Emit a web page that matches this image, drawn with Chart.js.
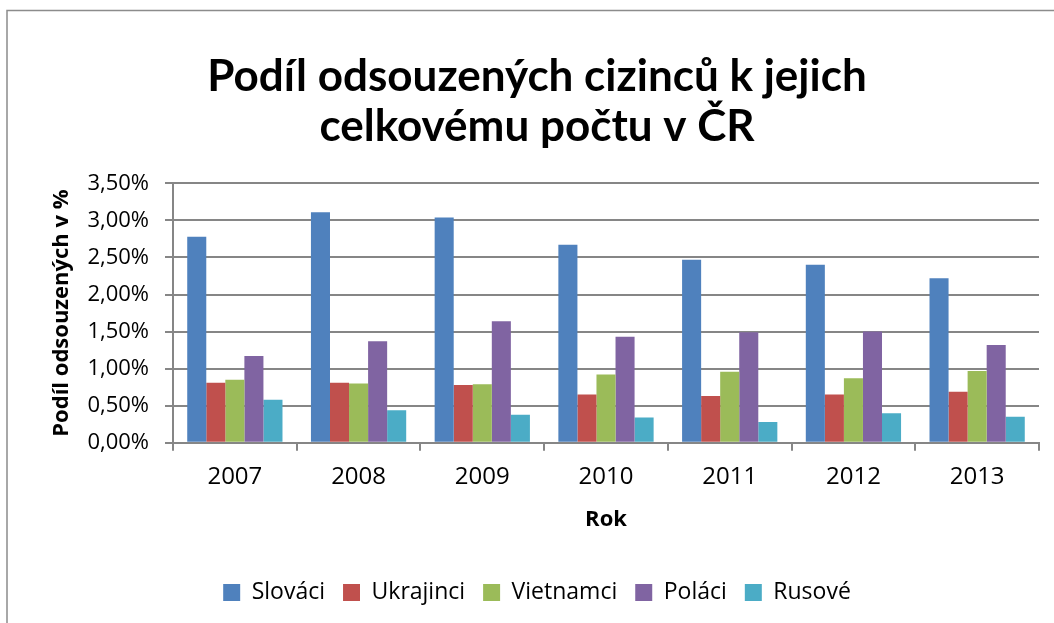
<!DOCTYPE html>
<html lang="cs">
<head>
<meta charset="utf-8">
<title>Podíl odsouzených cizinců</title>
<script src="https://cdn.jsdelivr.net/npm/chart.js@4.4.0/dist/chart.umd.min.js"></script>
<style>
  html, body { margin: 0; padding: 0; background: #fff; }
  #wrap { position: relative; width: 1054px; height: 623px; }
</style>
</head>
<body>
<div id="wrap"><canvas id="chart" width="1054" height="623"></canvas></div>
<script>
// ===== data (values in %) =====
const years = ["2007", "2008", "2009", "2010", "2011", "2012", "2013"];
const slovaci   = [2.78, 3.11, 3.04, 2.67, 2.47, 2.40, 2.22];
const ukrajinci = [0.81, 0.81, 0.78, 0.65, 0.63, 0.65, 0.69];
const vietnamci = [0.85, 0.80, 0.79, 0.92, 0.96, 0.87, 0.97];
const polaci    = [1.17, 1.37, 1.64, 1.43, 1.49, 1.50, 1.32];
const rusove    = [0.58, 0.44, 0.38, 0.34, 0.28, 0.40, 0.35];
const seriesNames = ["Slováci", "Ukrajinci", "Vietnamci", "Poláci", "Rusové"];
const seriesColors = ["#4F81BD", "#C0504D", "#9BBB59", "#8064A2", "#4BACC6"];
const yTicks = [0, 0.5, 1, 1.5, 2, 2.5, 3, 3.5];

const FONT = "'Open Sans', sans-serif";
const GRID = "#868686";

// frame around the chart (only left + top are visible in the reference)
const framePlugin = {
  id: "frame",
  beforeDraw(chart) {
    const ctx = chart.ctx;
    ctx.save();
    ctx.strokeStyle = "#8c8c8c";
    ctx.lineWidth = 1.5;
    ctx.beginPath();
    ctx.moveTo(7, 623);
    ctx.lineTo(7, 10.5);
    ctx.lineTo(1054, 10.5);
    ctx.stroke();
    ctx.restore();
  }
};

const allValues = [slovaci, ukrajinci, vietnamci, polaci, rusove];

new Chart(document.getElementById("chart"), {
  type: "bar",
  data: {
    labels: years,
    datasets: seriesNames.map((name, i) => ({
      label: name,
      data: allValues[i],
      backgroundColor: seriesColors[i],
      borderWidth: 0,
      categoryPercentage: 0.77,
      barPercentage: 1.0
    }))
  },
  options: {
    responsive: false,
    animation: false,
    layout: { padding: { left: 35, right: 15, top: 0, bottom: 9 } },
    plugins: {
      title: {
        display: true,
        text: ["Podíl odsouzených cizinců k jejich", "celkovému počtu v ČR"],
        color: "#000",
        font: { family: "Lato, sans-serif", size: 44, weight: "bold", lineHeight: 1.14 },
        padding: { top: 52, bottom: 31 }
      },
      legend: {
        position: "bottom",
        labels: {
          color: "#000",
          font: { family: FONT, size: 23 },
          boxWidth: 17,
          boxHeight: 17,
          padding: 18
        }
      },
      tooltip: { enabled: false }
    },
    scales: {
      x: {
        grid: {
          offset: true,
          drawOnChartArea: false,
          drawTicks: true,
          tickLength: 8,
          color: GRID,
          lineWidth: 2
        },
        border: { color: GRID, width: 2 },
        ticks: { color: "#000", font: { family: FONT, size: 24 }, padding: 12 },
        title: {
          display: true,
          text: "Rok",
          color: "#000",
          font: { family: FONT, size: 22, weight: "bold" },
          padding: { top: 3, bottom: 30 }
        }
      },
      y: {
        min: 0,
        max: 3.5,
        afterBuildTicks(scale) {
          scale.ticks = yTicks.map(v => ({ value: v }));
        },
        afterFit(scale) {
          scale.width = 138;
        },
        grid: { color: GRID, lineWidth: 2, drawTicks: true, tickLength: 8 },
        border: { color: GRID, width: 2 },
        ticks: {
          color: "#000",
          font: { family: FONT, size: 22 },
          padding: 16,
          callback: v => v.toFixed(2).replace(".", ",") + "%"
        },
        title: {
          display: true,
          text: "Podíl odsouzených v %",
          color: "#000",
          font: { family: FONT, size: 22, weight: "bold" },
          padding: { top: 14, bottom: 0 }
        }
      }
    }
  },
  plugins: [framePlugin]
});
</script>
</body>
</html>
